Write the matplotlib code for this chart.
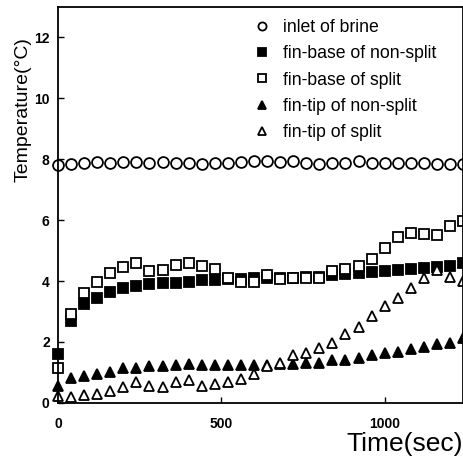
import numpy as np
import matplotlib
matplotlib.use('Agg')
import matplotlib.pyplot as plt

plt.rcParams['font.family'] = ['Liberation Sans', 'DejaVu Sans']

# time axis (sec)
t = np.arange(0, 1241, 40)

inlet = [7.82, 7.84, 7.87, 7.90, 7.88, 7.90, 7.90, 7.88, 7.90, 7.88, 7.86, 7.85,
         7.88, 7.88, 7.90, 7.95, 7.93, 7.90, 7.93, 7.86, 7.85, 7.87, 7.87, 7.93,
         7.87, 7.87, 7.88, 7.88, 7.86, 7.84, 7.84, 7.85]
base_nonsplit = [1.60, 2.69, 3.24, 3.44, 3.64, 3.77, 3.84, 3.90, 3.92, 3.95, 3.97, 4.02,
                 4.05, 4.08, 4.08, 4.09, 4.10, 4.10, 4.11, 4.12, 4.13, 4.20, 4.23, 4.27,
                 4.30, 4.32, 4.35, 4.38, 4.42, 4.45, 4.50, 4.60]
base_split = [1.13, 2.92, 3.60, 3.97, 4.26, 4.46, 4.59, 4.33, 4.36, 4.52, 4.58, 4.49,
              4.39, 4.10, 3.97, 3.97, 4.20, 4.08, 4.10, 4.10, 4.11, 4.33, 4.39, 4.49,
              4.72, 5.08, 5.44, 5.57, 5.54, 5.51, 5.80, 5.97]
tip_nonsplit = [0.54, 0.82, 0.89, 0.95, 1.02, 1.15, 1.15, 1.21, 1.21, 1.23, 1.28, 1.25,
                1.25, 1.25, 1.25, 1.25, 1.24, 1.26, 1.28, 1.30, 1.31, 1.40, 1.40, 1.48,
                1.57, 1.64, 1.68, 1.77, 1.84, 1.93, 1.97, 2.13]
tip_split = [0.21, 0.20, 0.25, 0.30, 0.38, 0.52, 0.69, 0.56, 0.52, 0.69, 0.75, 0.56,
             0.62, 0.69, 0.79, 0.95, 1.21, 1.30, 1.57, 1.64, 1.79, 1.97, 2.26, 2.49,
             2.85, 3.18, 3.44, 3.77, 4.10, 4.36, 4.13, 4.00]

fig = plt.figure(figsize=(4.64, 4.62), dpi=100)
ax = fig.add_axes([0.125, 0.128, 0.873, 0.857])

ms = 7.8
mew = 1.3
ax.plot(t, inlet, 'o', mfc='white', mec='black', ms=ms, mew=mew, label='inlet of brine', clip_on=False)
ax.plot(t, base_nonsplit, 's', mfc='black', mec='black', ms=ms, mew=mew, label='fin-base of non-split', clip_on=False)
ax.plot(t, base_split, 's', mfc='white', mec='black', ms=ms, mew=mew, label='fin-base of split', clip_on=False)
ax.plot(t, tip_nonsplit, '^', mfc='black', mec='black', ms=ms, mew=mew, label='fin-tip of non-split', clip_on=False)
ax.plot(t, tip_split, '^', mfc='white', mec='black', ms=ms, mew=mew, label='fin-tip of split', clip_on=False)

ax.set_xlim(0, 1240)
ax.set_ylim(0, 13)
ax.set_xticks([0, 500, 1000])
ax.set_yticks([0, 2, 4, 6, 8, 10, 12])
ax.tick_params(direction='in', length=4, width=1)
ax.tick_params(axis='y', pad=6, labelsize=10)
ax.tick_params(axis='x', pad=10, labelsize=10)
for lab in ax.get_yticklabels() + ax.get_xticklabels():
    lab.set_fontweight('bold')
for sp in ax.spines.values():
    sp.set_linewidth(1.3)

ax.set_ylabel('Temperature(\u00b0C)', fontsize=14)
ax.yaxis.set_label_coords(-0.064, 0.74)
ax.set_xlabel('Time(sec)', fontsize=19, loc='right', labelpad=1)

ax.legend(loc='upper right', frameon=False, fontsize=12.7, handletextpad=0.75,
          labelspacing=0.52, borderaxespad=0.3, handlelength=0.9, markerscale=0.75,
          bbox_to_anchor=(0.965, 1.0))

fig.savefig('out.png', dpi=100)
